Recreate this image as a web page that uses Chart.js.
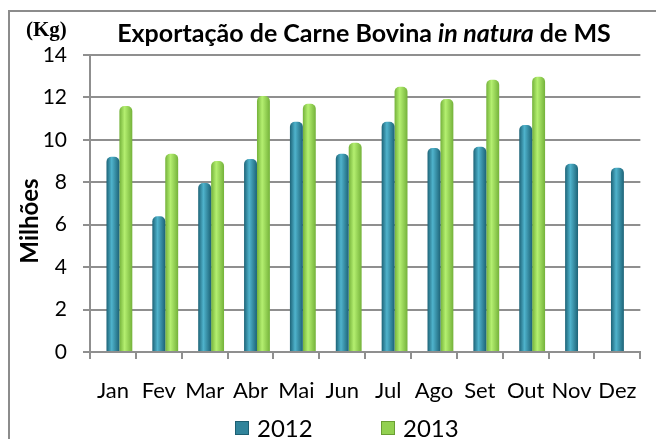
<!DOCTYPE html>
<html>
<head>
<meta charset="utf-8">
<script src="https://cdn.jsdelivr.net/npm/chart.js@4.4.0/dist/chart.umd.min.js"></script>
<style>
    html, body { margin: 0; padding: 0; background: #ffffff; }
    #wrap { width: 656px; height: 439px; position: relative; }
</style>
</head>
<body>
<div id="wrap"><canvas id="exportChart"></canvas></div>
<script>
/* Exportação de Carne Bovina in natura de MS - 2012 x 2013 */

const months = ['Jan', 'Fev', 'Mar', 'Abr', 'Mai', 'Jun', 'Jul', 'Ago', 'Set', 'Out', 'Nov', 'Dez'];
const exp2012 = [9.2, 6.4, 7.97, 9.1, 10.85, 9.34, 10.85, 9.62, 9.67, 10.7, 8.87, 8.68];
const exp2013 = [11.6, 9.34, 9.0, 12.07, 11.7, 9.86, 12.5, 11.93, 12.83, 12.97, null, null];
const yTicks = [0, 2, 4, 6, 8, 10, 12, 14];
const seriesNames = ['2012', '2013'];

const CAT_PCT = 0.845;
const GRID = '#8f8f8f';
const FONT = 'Lato, "Open Sans", sans-serif';

// horizontal shading so the columns look like cylinders
function cylinder(dark, light, mid, shift) {
    return function (context) {
        const chart = context.chart;
        const xScale = chart.scales.x;
        if (!xScale || !chart.chartArea || context.type !== 'data') return mid;
        const slot = (chart.chartArea.width / months.length) * CAT_PCT / 3;
        const cx = xScale.getPixelForValue(context.dataIndex) + shift * slot;
        if (!isFinite(cx) || !isFinite(slot)) return mid;
        const g = chart.ctx.createLinearGradient(cx - slot / 2, 0, cx + slot / 2, 0);
        g.addColorStop(0, dark);
        g.addColorStop(0.4, light);
        g.addColorStop(1, dark);
        return g;
    };
}

// frame, title, unit, axis title and legend
const decorations = {
    id: 'decorations',
    beforeDraw(chart) {
        const c = chart.ctx;
        c.save();
        c.strokeStyle = '#8c8c8c';
        c.lineWidth = 2;
        c.strokeRect(9, 11, 700, 500);
        c.restore();
    },
    afterDraw(chart) {
        const c = chart.ctx;
        c.save();
        c.fillStyle = '#000000';

        // (Kg)
        c.font = 'bold 21px "Liberation Serif", serif';
        c.textAlign = 'left';
        c.textBaseline = 'alphabetic';
        c.fillText('(Kg)', 26, 36);

        // title with italic part
        const parts = [
            ['Exportação de Carne Bovina ', 'bold'],
            ['in natura', 'italic bold'],
            [' de MS', 'bold']
        ];
        const size = 25;
        let total = 0;
        parts.forEach(p => {
            c.font = p[1] + ' ' + size + 'px ' + FONT;
            total += c.measureText(p[0]).width;
        });
        let x = 364 - total / 2;
        parts.forEach(p => {
            c.font = p[1] + ' ' + size + 'px ' + FONT;
            c.fillText(p[0], x, 42);
            x += c.measureText(p[0]).width;
        });

        // Milhões
        c.save();
        c.translate(38, 221);
        c.rotate(-Math.PI / 2);
        c.font = 'bold 24px ' + FONT;
        c.textAlign = 'center';
        c.fillText('Milhões', 0, 0);
        c.restore();

        // legend
        const legendColors = [['#31849b', '#1d5f72'], ['#92d050', '#6a9e33']];
        const legendX = [235, 381];
        c.font = '24px ' + FONT;
        c.textBaseline = 'middle';
        seriesNames.forEach((name, i) => {
            const bx = legendX[i];
            const by = 421;
            c.fillStyle = legendColors[i][0];
            c.fillRect(bx, by, 14, 14);
            c.strokeStyle = legendColors[i][1];
            c.lineWidth = 1;
            c.strokeRect(bx + 0.5, by + 0.5, 13, 13);
            c.fillStyle = '#000000';
            c.fillText(name, bx + 22, by + 8);
        });
        c.restore();
    }
};

const ctx = document.getElementById('exportChart');

new Chart(ctx, {
    type: 'bar',
    data: {
        labels: months,
        datasets: [
            {
                label: '',
                data: months.map(() => null)
            },
            {
                label: seriesNames[0],
                data: exp2012,
                backgroundColor: cylinder('#1d6377', '#4fb3cc', '#31849b', 0),
                borderRadius: 5
            },
            {
                label: seriesNames[1],
                data: exp2013,
                backgroundColor: cylinder('#74b23a', '#b4ef70', '#92d050', 1),
                borderRadius: 5
            }
        ]
    },
    options: {
        responsive: true,
        maintainAspectRatio: false,
        animation: false,
        categoryPercentage: CAT_PCT,
        barPercentage: 1,
        layout: {
            padding: { top: 55, right: 12, bottom: 37, left: 0 }
        },
        plugins: {
            legend: { display: false },
            title: { display: false },
            tooltip: { enabled: false }
        },
        scales: {
            x: {
                afterFit: function (scale) {
                    scale.height = 50;
                },
                grid: {
                    offset: true,
                    drawOnChartArea: false,
                    drawTicks: true,
                    tickLength: 7,
                    color: GRID,
                    lineWidth: 2
                },
                border: { color: GRID, width: 2 },
                ticks: {
                    color: '#000000',
                    padding: 19,
                    maxRotation: 0,
                    autoSkip: false,
                    font: { size: 22, family: FONT }
                }
            },
            y: {
                min: 0,
                max: 14,
                afterFit: function (scale) {
                    scale.width = 90;
                },
                afterBuildTicks: function (scale) {
                    scale.ticks = yTicks.map(v => ({ value: v }));
                },
                grid: {
                    color: GRID,
                    lineWidth: 2,
                    tickLength: 7
                },
                border: { color: GRID, width: 2 },
                ticks: {
                    color: '#000000',
                    padding: 16,
                    font: { size: 21, family: FONT }
                }
            }
        }
    },
    plugins: [decorations]
});
</script>
</body>
</html>
